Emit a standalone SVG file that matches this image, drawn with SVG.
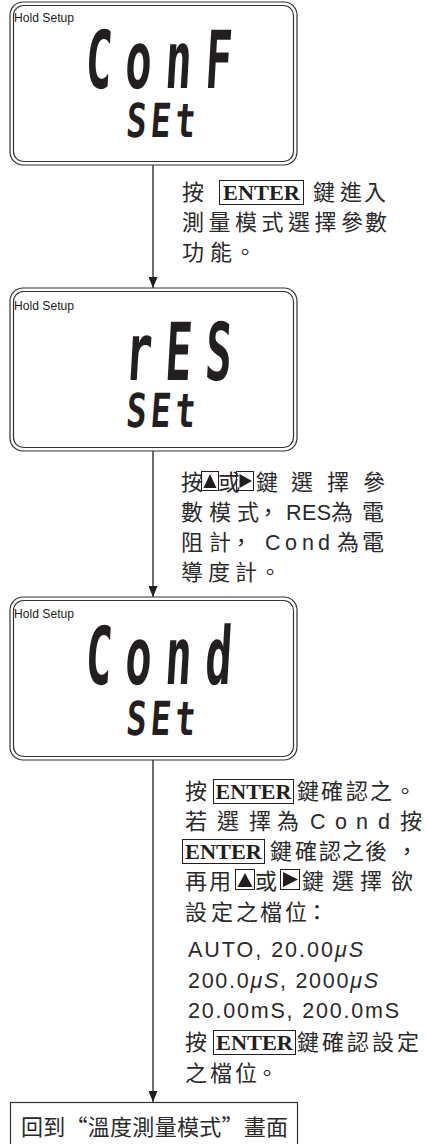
<svg xmlns="http://www.w3.org/2000/svg" width="427" height="1144" viewBox="0 0 427 1144">
<defs>
<style>
.cjk{font-family:"Noto Sans CJK TC","Noto Sans CJK SC",sans-serif;font-size:22px;fill:#2a2a2a}
.lat{font-family:"Liberation Sans",Arial,sans-serif;font-size:21.5px;fill:#2a2a2a}
.ent{font-family:"Liberation Serif","Times New Roman",serif;font-weight:bold;font-size:22px;fill:#231f20}
.kbox{fill:none;stroke:#231f20;stroke-width:1}
.tri{fill:#231f20}
.lcd{font-family:"DejaVu Sans Mono",monospace;font-weight:bold;fill:#231f20}
.hold{font-family:"Liberation Sans",Arial,sans-serif;font-size:12px;fill:#231f20}
.frame{fill:none;stroke:#333;stroke-width:1.2}
.conn{stroke:#231f20;stroke-width:1.3;fill:none}
.it{font-style:italic}
</style>
<marker id="ah" viewBox="0 0 11 9" refX="11" refY="4.5" markerWidth="11" markerHeight="9" markerUnits="userSpaceOnUse" orient="auto"><path d="M0,0 L11,4.5 L0,9 z" fill="#231f20"/></marker>
</defs>
<rect width="427" height="1144" fill="#fff"/>

<g id="connectors">
<line class="conn" x1="153" y1="165" x2="153" y2="288" marker-end="url(#ah)"/>
<line class="conn" x1="153" y1="451" x2="153" y2="597" marker-end="url(#ah)"/>
<line class="conn" x1="153" y1="760" x2="153" y2="1102" marker-end="url(#ah)"/>
</g>

<g id="display-conf">
<rect class="frame" x="10" y="2" width="287" height="163" rx="13"/>
<rect class="frame" x="13.5" y="5.5" width="280" height="156" rx="10"/>
<text class="hold" x="14" y="22" textLength="60" lengthAdjust="spacingAndGlyphs">Hold Setup</text>
<text class="lcd" font-size="80" letter-spacing="24.5" transform="translate(88,88) scale(0.55,1) skewX(-6)" x="-7" y="0">ConF</text>
<text class="lcd" font-size="47" letter-spacing="5.7" transform="translate(128,137) scale(0.72,1) skewX(-6)" x="-4" y="0">SEt</text>
</g>

<g id="note-1">
<text class="cjk" y="200" x="182">按</text>
<rect class="kbox" x="219.5" y="180.5" width="84" height="24"/>
<text class="ent" x="223" y="200" textLength="77" lengthAdjust="spacingAndGlyphs">ENTER</text>
<text class="cjk" y="200" x="313 340 364">鍵進入</text>
<text class="cjk" y="230" x="182 208.5 235 261.5 288 314.5 341 365">測量模式選擇參數</text>
<text class="cjk" y="260" x="182 210 234">功能。</text>
</g>

<g id="display-res">
<rect class="frame" x="10" y="288" width="287" height="163" rx="13"/>
<rect class="frame" x="13.5" y="291.5" width="280" height="156" rx="10"/>
<text class="hold" x="14" y="310" textLength="60" lengthAdjust="spacingAndGlyphs">Hold Setup</text>
<text class="lcd" font-size="80" letter-spacing="24.5" transform="translate(128,380) scale(0.55,1) skewX(-6)" x="-7" y="0">rES</text>
<text class="lcd" font-size="47" letter-spacing="5.7" transform="translate(128,427) scale(0.72,1) skewX(-6)" x="-4" y="0">SEt</text>
</g>

<g id="note-2">
<text class="cjk" y="490" x="181">按</text>
<rect class="kbox" x="201.5" y="471.5" width="17" height="19"/>
<polygon class="tri" points="203.5,488 216.5,488 210,474"/>
<text class="cjk" y="490" x="218">或</text>
<rect class="kbox" x="236.5" y="471.5" width="17" height="19"/>
<polygon class="tri" points="239.5,474 239.5,488 252,481"/>
<text class="cjk" y="490" x="256 291 327 363">鍵選擇參</text>
<text class="cjk" y="520" x="181 209 237 257">數模式，</text>
<text class="lat" y="520" x="286" letter-spacing="0.5">RES</text>
<text class="cjk" y="520" x="331 362">為電</text>
<text class="cjk" y="550" x="181 209 230">阻計，</text>
<text class="lat" y="550" x="265 285 302 318">Cond</text>
<text class="cjk" y="550" x="337 362">為電</text>
<text class="cjk" y="580" x="181 208 235 259">導度計。</text>
</g>

<g id="display-cond">
<rect class="frame" x="10" y="597" width="287" height="163" rx="13"/>
<rect class="frame" x="13.5" y="600.5" width="280" height="156" rx="10"/>
<text class="hold" x="14" y="618" textLength="60" lengthAdjust="spacingAndGlyphs">Hold Setup</text>
<text class="lcd" font-size="80" letter-spacing="24.5" transform="translate(88,684) scale(0.55,1) skewX(-6)" x="-7" y="0">Cond</text>
<text class="lcd" font-size="47" letter-spacing="5.7" transform="translate(128,735) scale(0.72,1) skewX(-6)" x="-4" y="0">SEt</text>
</g>

<g id="note-3">
<text class="cjk" y="799" x="185">按</text>
<rect class="kbox" x="213.5" y="779.5" width="80" height="24"/>
<text class="ent" x="215.5" y="799" textLength="76" lengthAdjust="spacingAndGlyphs">ENTER</text>
<text class="cjk" y="799" x="297 321 346 370 394">鍵確認之。</text>
<text class="cjk" y="829" x="185 217 249 277">若選擇為</text>
<text class="lat" y="829" x="310 335 356 378">Cond</text>
<text class="cjk" y="829" x="400">按</text>
<rect class="kbox" x="182.5" y="839.5" width="82" height="24"/>
<text class="ent" x="185" y="859" textLength="77" lengthAdjust="spacingAndGlyphs">ENTER</text>
<text class="cjk" y="859" x="270 295 319 342 365 396">鍵確認之後，</text>
<text class="cjk" y="889" x="185 209">再用</text>
<rect class="kbox" x="235.5" y="869.5" width="19" height="20"/>
<polygon class="tri" points="237.5,887 252.5,887 245,873"/>
<text class="cjk" y="889" x="255">或</text>
<rect class="kbox" x="280.5" y="869.5" width="19" height="20"/>
<polygon class="tri" points="283,872 283,887 298,879.5"/>
<text class="cjk" y="889" x="302 332 360 391">鍵選擇欲</text>
<text class="cjk" y="920" x="185 211 236 260 285 306">設定之檔位：</text>
<text class="lat" y="957" x="188" textLength="175" lengthAdjust="spacing">AUTO, 20.00<tspan class="it">μS</tspan></text>
<text class="lat" y="988" x="188" textLength="190" lengthAdjust="spacing">200.0<tspan class="it">μS</tspan>, 2000<tspan class="it">μS</tspan></text>
<text class="lat" y="1018" x="188" textLength="211" lengthAdjust="spacing">20.00mS, 200.0mS</text>
<text class="cjk" y="1050" x="185">按</text>
<rect class="kbox" x="213.5" y="1030.5" width="82" height="24"/>
<text class="ent" x="216" y="1050" textLength="77" lengthAdjust="spacingAndGlyphs">ENTER</text>
<text class="cjk" y="1050" x="297 322 347 372 397">鍵確認設定</text>
<text class="cjk" y="1081" x="185 210 235 256">之檔位。</text>
</g>

<g id="result">
<rect class="frame" x="10.5" y="1102.5" width="287" height="60"/>
<text class="cjk" y="1135" x="21" textLength="267" lengthAdjust="spacing">回到“溫度測量模式”畫面</text>
</g>
</svg>
